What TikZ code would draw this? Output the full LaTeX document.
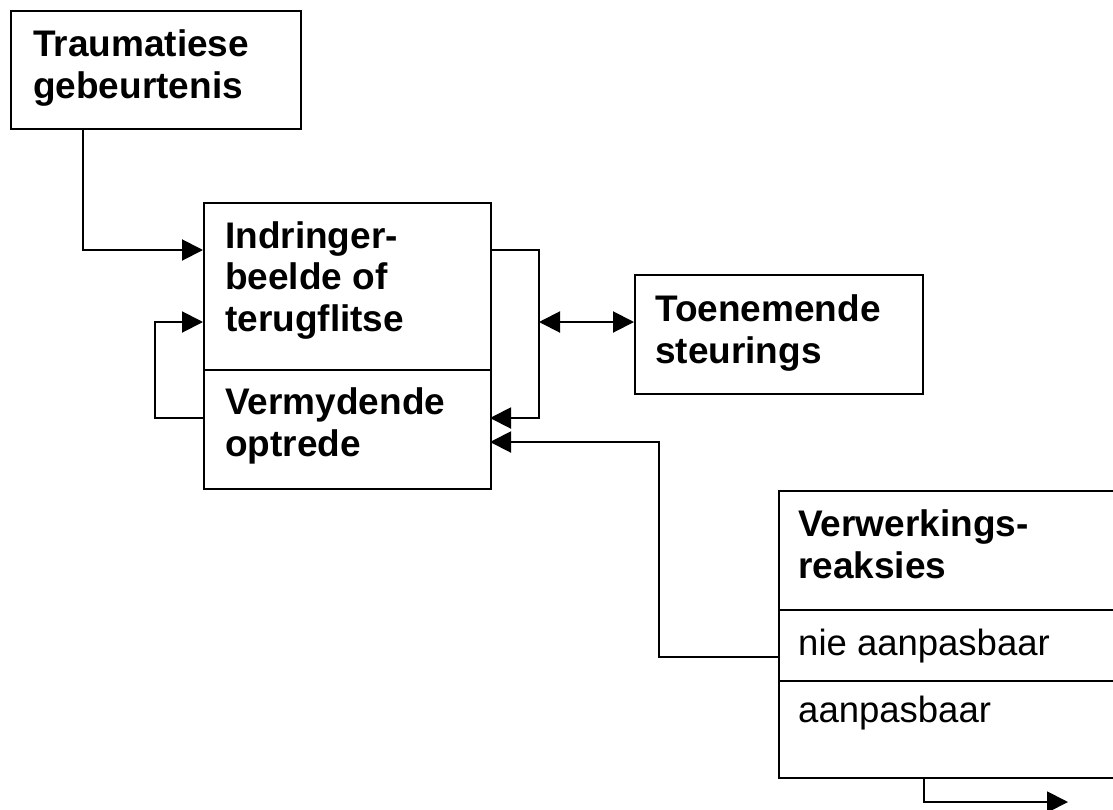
\documentclass[tikz,border=0pt]{standalone}
\usepackage{fontspec}
\setmainfont{Liberation Sans}
\usetikzlibrary{arrows.meta,calc}
\begin{document}
\begin{tikzpicture}[x=1pt,y=-1pt,
  box/.style={draw,line width=2pt,inner sep=0pt,anchor=north west},
  txt/.style={anchor=base west,inner sep=0pt,align=left,font=\fontsize{37}{41.5}\selectfont\bfseries},
  txtr/.style={anchor=base west,inner sep=0pt,align=left,font=\fontsize{36.5}{41.5}\selectfont},
  conn/.style={line width=2pt},
  arr/.style={conn,-{Triangle[length=21pt,width=21pt]}},
  darr/.style={conn,{Triangle[length=21pt,width=21pt]}-{Triangle[length=21pt,width=21pt]}}]
\useasboundingbox[fill=white] (0,0) rectangle (1113,809);
\clip (0,0) rectangle (1113,809);
% boxes
\node[box,minimum width=290pt,minimum height=118pt] (trauma) at (10,10) {};
\node[box,minimum width=287pt,minimum height=286pt] (indr) at (203,202) {};
\node[box,minimum width=288pt,minimum height=119pt] (toen) at (634,274) {};
\node[box,minimum width=350pt,minimum height=287pt] (verw) at (778,490) {};
\coordinate (d1l) at (203,370);
\coordinate (d1r) at (490,370);
\draw[conn] (d1l) -- (d1r);
\coordinate (d2l) at (778,610);
\coordinate (d2r) at (1130,610);
\coordinate (d3l) at (778,681);
\coordinate (d3r) at (1130,681);
\draw[conn] (d2l) -- (d2r);
\draw[conn] (d3l) -- (d3r);
% texts (anchor = baseline of last line)
\node[txt] (t1) at (33,98) {Traumatiese\\gebeurtenis};
\node[txt] (t2) at (225,331) {Indringer-\\beelde of\\terugflitse};
\node[txt] (t3) at (225,456) {Vermydende\\optrede};
\node[txt] (t4) at (655,363) {Toenemende\\steurings};
\node[txt] (t5) at (798,578) {Verwerkings-\\reaksies};
\node[txtr] (t6) at (798,655) {nie aanpasbaar};
\node[txtr] (t7) at (798,722) {aanpasbaar};
% connector points
\coordinate (c1a) at (83,128);
\coordinate (c1b) at (83,250);
\coordinate (c1c) at (203,250);
\coordinate (c2a) at (203,418);
\coordinate (c2b) at (155,418);
\coordinate (c2c) at (155,322);
\coordinate (c2d) at (203,322);
\coordinate (c3a) at (490,250);
\coordinate (c3b) at (539,250);
\coordinate (c3c) at (539,418);
\coordinate (c3d) at (490,418);
\coordinate (c4a) at (539,322);
\coordinate (c4b) at (634,322);
\coordinate (c5a) at (778,657);
\coordinate (c5b) at (659,657);
\coordinate (c5c) at (659,442);
\coordinate (c5d) at (490,442);
\coordinate (c6a) at (924,777);
\coordinate (c6b) at (924,802);
\coordinate (c6c) at (1068,802);
\draw[arr] (c1a) -- (c1b) -- (c1c);
\draw[arr] (c2a) -- (c2b) -- (c2c) -- (c2d);
\draw[arr] (c3a) -- (c3b) -- (c3c) -- (c3d);
\draw[darr] (c4a) -- (c4b);
\draw[arr] (c5a) -- (c5b) -- (c5c) -- (c5d);
\draw[arr] (c6a) -- (c6b) -- (c6c);
\end{tikzpicture}
\end{document}
